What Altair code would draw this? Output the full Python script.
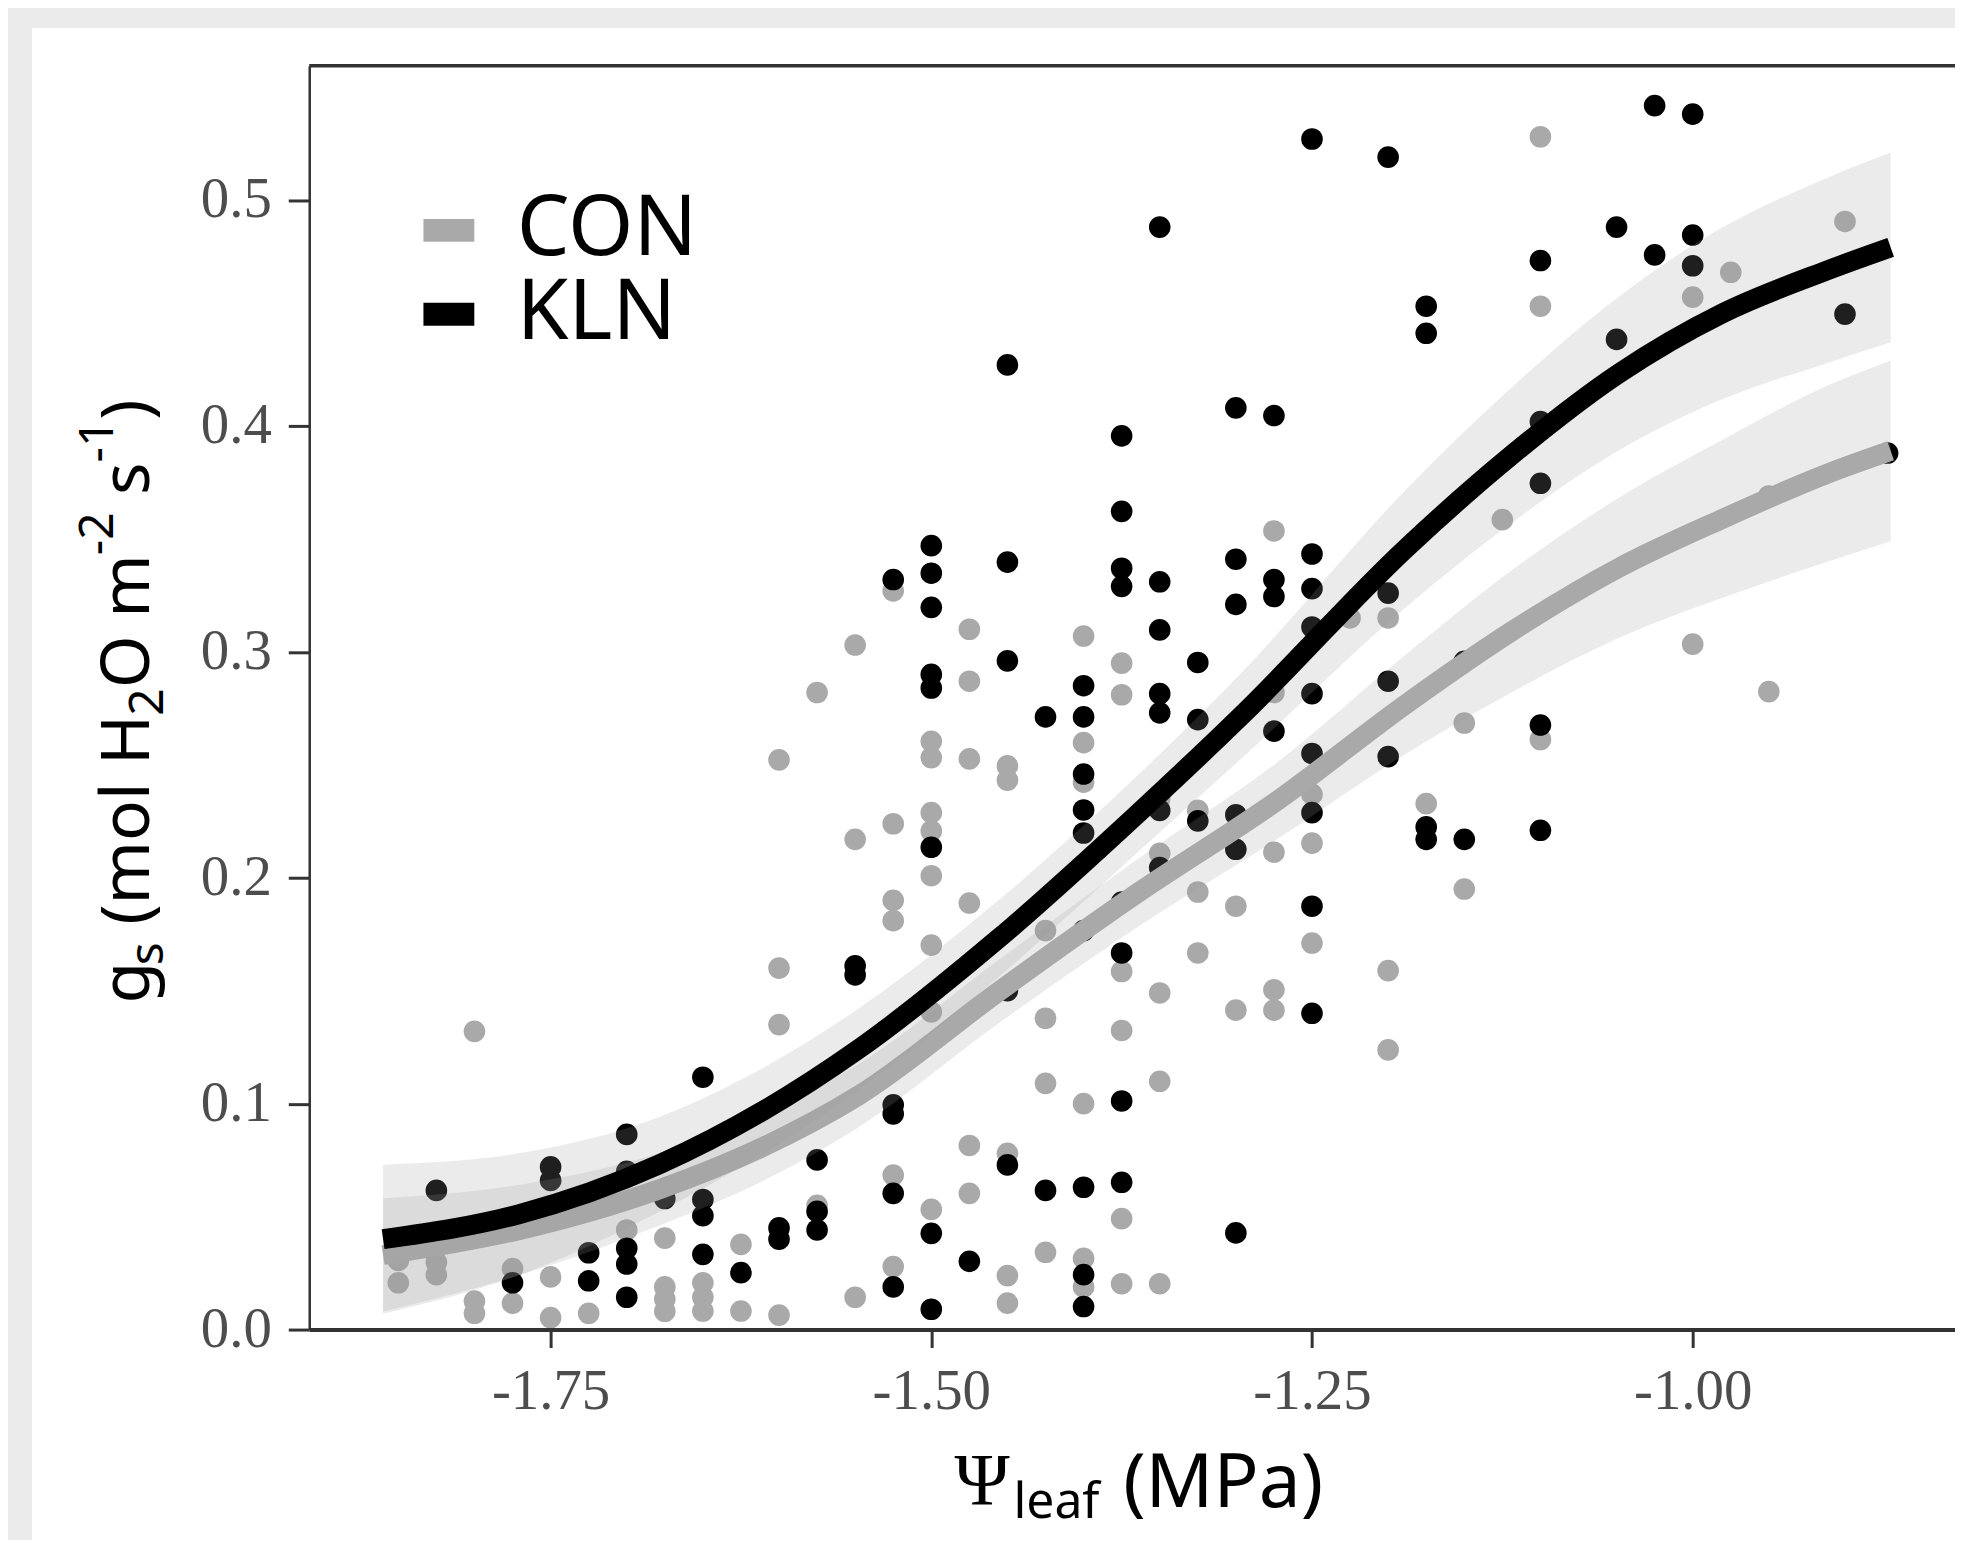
import altair as alt
import pandas as pd

# ---------------- data ----------------
con_x = [-1.550, -1.575, -1.525, -1.275, -1.475, -1.400, -1.375, -1.475, -1.375, -1.225,
         -1.200, -1.275, -1.100, -0.900, -0.975, -1.000, -1.100, -1.125, -0.950, -1.000,
         -0.950, -1.600, -1.550, -1.600, -1.600, -1.800, -1.575, -1.550, -1.850, -1.850,
         -1.825, -1.825, -1.800, -1.800, -1.775, -1.775, -1.750, -1.750, -1.725, -1.700,
         -1.675, -1.675, -1.675, -1.675, -1.650, -1.650, -1.650, -1.625, -1.625, -1.600,
         -1.500, -1.500, -1.475, -1.450, -1.450, -1.400, -1.400, -1.525, -1.500, -1.500,
         -1.500, -1.525, -1.525, -1.475, -1.500, -1.425, -1.375, -1.375, -1.350, -1.350,
         -1.350, -1.325, -1.325, -1.325, -1.300, -1.300, -1.275, -1.275, -1.275, -1.250,
         -1.250, -1.250, -1.200, -1.200, -1.425, -1.400, -1.350, -1.475, -1.450, -1.525,
         -1.475, -1.500, -1.375, -1.525, -1.450, -1.450, -1.425, -1.400, -1.400, -1.375,
         -1.350, -1.500, -1.425, -1.150, -1.100, -1.175, -1.150]
con_y = [0.303, 0.282, 0.327, 0.3535, 0.310, 0.307, 0.295, 0.287, 0.281, 0.315,
         0.315, 0.282, 0.528, 0.4905, 0.468, 0.457, 0.453, 0.3585, 0.369, 0.3034,
         0.2824, 0.2522, 0.217, 0.160, 0.135, 0.132, 0.055, 0.0143, 0.0306, 0.0207,
         0.0298, 0.0243, 0.0126, 0.0072, 0.027, 0.0117, 0.0233, 0.0053, 0.0072, 0.0441,
         0.0405, 0.0189, 0.0135, 0.0081, 0.0207, 0.0143, 0.0082, 0.0377, 0.0082, 0.0064,
         0.2604, 0.2532, 0.2526, 0.2495, 0.2432, 0.2598, 0.2423, 0.2239, 0.2288, 0.2207,
         0.2009, 0.190, 0.181, 0.1888, 0.1702, 0.1766, 0.1585, 0.1324, 0.235, 0.2108,
         0.149, 0.2298, 0.1937, 0.1667, 0.1874, 0.1414, 0.2113, 0.1504, 0.1414, 0.2369,
         0.2153, 0.1711, 0.1589, 0.1238, 0.109, 0.100, 0.1099, 0.0815, 0.078, 0.0684,
         0.0603, 0.0532, 0.0491, 0.0279, 0.0239, 0.0117, 0.0342, 0.0315, 0.0189, 0.0203,
         0.0203, 0.1406, 0.1378, 0.2685, 0.2612, 0.2328, 0.195]

kln_x = [-1.250, -1.200, -1.350, -1.450, -1.300, -1.275, -1.375, -1.375, -1.500, -1.500,
         -1.525, -1.450, -1.500, -1.375, -1.375, -1.350, -1.300, -1.275, -1.275, -1.300,
         -1.250, -1.250, -1.350, -1.450, -1.500, -1.500, -1.325, -1.400, -1.350, -1.200,
         -1.250, -1.250, -1.200,
         -1.025, -1.000, -1.100, -1.050, -1.000, -1.025, -1.000, -1.175, -1.175, -1.050,
         -0.900, -1.100, -1.100, -0.872, -1.150,
         -1.775, -1.725, -1.725, -1.700, -1.700, -1.700, -1.650, -1.650, -1.650, -1.625,
         -1.600, -1.600, -1.575, -1.575, -1.650, -1.700, -1.750, -1.750, -1.825, -1.575,
         -1.675, -1.700, -1.550, -1.550,
         -1.425, -1.400, -1.350, -1.325, -1.275, -1.200, -1.250, -1.400, -1.400, -1.400,
         -1.500, -1.400, -1.375, -1.375, -1.350, -1.350, -1.325, -1.300, -1.300, -1.250,
         -1.250, -1.250, -1.375, -1.525, -1.525, -1.450, -1.525, -1.500, -1.425, -1.400,
         -1.375, -1.300, -1.475, -1.525, -1.500, -1.400, -1.400, -1.450,
         -1.100, -1.175, -1.175, -1.150, -1.100]
kln_y = [0.527, 0.519, 0.488, 0.427, 0.408, 0.4046, 0.3956, 0.3622, 0.347, 0.3348,
         0.332, 0.3397, 0.3197, 0.337, 0.329, 0.331, 0.341, 0.332, 0.3245, 0.321,
         0.3433, 0.328, 0.3097, 0.296, 0.290, 0.284, 0.2953, 0.285, 0.2815, 0.287,
         0.2815, 0.311, 0.326,
         0.5418, 0.538, 0.4732, 0.488, 0.4845, 0.4757, 0.4709, 0.453, 0.441, 0.4383,
         0.4495, 0.4019, 0.3746, 0.388, 0.2958,
         0.0207, 0.034, 0.0216, 0.036, 0.029, 0.0143, 0.0576, 0.0504, 0.0333, 0.0252,
         0.045, 0.040, 0.0523, 0.0441, 0.1117, 0.0864, 0.072, 0.066, 0.0616, 0.0751,
         0.058, 0.070, 0.161, 0.157,
         0.2712, 0.2712, 0.273, 0.270, 0.2649, 0.2536, 0.255, 0.2459, 0.230, 0.2198,
         0.2135, 0.1766, 0.1892, 0.1667, 0.2298, 0.2045, 0.2252, 0.2279, 0.2126, 0.2288,
         0.1874, 0.140, 0.1012, 0.0995, 0.0955, 0.0729, 0.0603, 0.0426, 0.0616, 0.063,
         0.0652, 0.0428, 0.0302, 0.0189, 0.009, 0.0243, 0.0102, 0.150,
         0.2676, 0.2225, 0.217, 0.217, 0.221]

# fitted curves and confidence bands
kln_cx = [-1.860, -1.771, -1.679, -1.610, -1.548, -1.456, -1.365, -1.296, -1.188, -1.119,
          -1.049, -0.980, -0.911, -0.870]
kln_fit = [0.040, 0.051, 0.073, 0.097, 0.124, 0.173, 0.228, 0.272, 0.346, 0.387,
           0.423, 0.450, 0.469, 0.479]
kln_lo = [0.007, 0.024, 0.052, 0.078, 0.106, 0.156, 0.211, 0.253, 0.320, 0.357,
          0.389, 0.412, 0.428, 0.437]
kln_hi = [0.073, 0.078, 0.094, 0.116, 0.142, 0.190, 0.245, 0.291, 0.372, 0.417,
          0.457, 0.488, 0.510, 0.521]

con_cx = [-1.860, -1.771, -1.679, -1.610, -1.548, -1.456, -1.365, -1.273, -1.188, -1.119,
          -1.049, -0.980, -0.911, -0.870]
con_fit = [0.033, 0.044, 0.062, 0.081, 0.1035, 0.1495, 0.193, 0.234, 0.277, 0.309,
           0.337, 0.359, 0.379, 0.389]
con_lo = [0.008, 0.024, 0.046, 0.066, 0.0895, 0.1355, 0.178, 0.217, 0.255, 0.282,
          0.306, 0.324, 0.340, 0.349]
con_hi = [0.058, 0.064, 0.078, 0.096, 0.1175, 0.1635, 0.208, 0.251, 0.299, 0.336,
          0.368, 0.394, 0.418, 0.429]

groups = ["CON", "KLN"]
group_colors = ["#A9A9A9", "#000000"]
x_ticks = [-1.75, -1.50, -1.25, -1.00]
y_ticks = [0.0, 0.1, 0.2, 0.3, 0.4, 0.5]

# ---------------- tables ----------------
pts = pd.DataFrame({
    "x": con_x + kln_x,
    "y": con_y + kln_y,
    "grp": ["CON"] * len(con_x) + ["KLN"] * len(kln_x),
})
kln_curve = pd.DataFrame({"x": kln_cx, "fit": kln_fit, "lo": kln_lo, "hi": kln_hi})
con_curve = pd.DataFrame({"x": con_cx, "fit": con_fit, "lo": con_lo, "hi": con_hi})
one = pd.DataFrame({"a": [0]})

W, H = 1650, 1267
AX = "#333333"

xscale = alt.Scale(domain=[-1.9085, -0.82775], nice=False, zero=False)
yscale = alt.Scale(domain=[0, 0.5594], nice=False, zero=False)

xaxis = alt.Axis(values=x_ticks, title=None, grid=False,
                 labelExpr="replace(format(datum.value, '.2f'), '\u2212', '-')",
                 labelFont="Liberation Serif", labelFontSize=57, labelColor="#4D4D4D",
                 labelPadding=16, tickSize=18, tickWidth=3, tickColor=AX,
                 domainColor=AX, domainWidth=4, zindex=2)
yaxis = alt.Axis(values=y_ticks, title=None, grid=False, format=".1f",
                 labelFont="Liberation Serif", labelFontSize=57, labelColor="#4D4D4D",
                 labelPadding=17, tickSize=21, tickWidth=3, tickColor=AX,
                 domainColor=AX, domainWidth=2.5, zindex=2)


def X(f):
    return alt.X(f, type="quantitative", scale=xscale, axis=xaxis)


def Y(f):
    return alt.Y(f, type="quantitative", scale=yscale, axis=yaxis)


bg = alt.Chart(one).mark_rect(color="white").encode(
    x=alt.value(-278), x2=alt.value(W + 60), y=alt.value(-38), y2=alt.value(H + 400))

points = alt.Chart(pts).mark_circle(size=470, opacity=1, clip=True).encode(
    x=X("x"), y=Y("y"),
    color=alt.Color("grp:N", scale=alt.Scale(domain=groups, range=group_colors),
                    legend=alt.Legend(orient="none", legendX=98, legendY=123, title=None,
                                      symbolType="M-1,-0.45L1,-0.45L1,0.45L-1,0.45Z",
                                      symbolSize=2601, symbolStrokeWidth=0, symbolOpacity=1,
                                      labelFont="Noto Sans", labelFontSize=84,
                                      labelColor="black", labelOffset=26, rowPadding=0,
                                      padding=0, labelLimit=500)),
)


def band(df):
    return alt.Chart(df).mark_area(color="#999999", opacity=0.2, interpolate="monotone").encode(
        x=X("x"), y=Y("lo"), y2="hi")


def line(df, col):
    return alt.Chart(df).mark_line(color=col, strokeWidth=20, interpolate="monotone",
                                   strokeCap="butt").encode(x=X("x"), y=Y("fit"))


top_rule = alt.Chart(one).mark_rule(color=AX, strokeWidth=3.5).encode(
    x=alt.value(0), x2=alt.value(W), y=alt.value(0))

# ---------------- axis titles built from pieces ----------------
EM = {' ': 0.26, '(': 0.30, ')': 0.30, '-': 0.32, '1': 0.572, '2': 0.572, 'H': 0.738,
      'O': 0.779, 'M': 0.907, 'P': 0.602, 'a': 0.561, 'e': 0.561, 'f': 0.344, 'g': 0.561,
      'l': 0.258, 'm': 0.924, 'o': 0.602, 's': 0.479}


def tw(s, size):
    return sum(EM[c] for c in s) * size


def text_layer(t, font, size, x, y, angle=0):
    return alt.Chart(one).mark_text(text=t, font=font, fontSize=size, angle=angle,
                                    align="left", baseline="alphabetic", color="black").encode(
        x=alt.value(x), y=alt.value(y))


S, s = 68, 48
ytitle_parts = [  # text, size, baseline shift, gap before (em of main)
    ("g", S, 0, 0), ("s", s, 14, 0), ("(mol H", S, 0, 0.26), ("2", s, 14, 0),
    ("O m", S, 0, 0), ("-2", s, -36, 0), ("s", S, 0, 0.26), ("-1", s, -36, 0), (")", S, 0, 0),
]
title_layers = []
cur = 940
for t, sz, sh, gap in ytitle_parts:
    cur -= gap * S
    title_layers.append(text_layer(t, "Noto Sans", sz, -161 + sh, cur, angle=270))
    cur -= tw(t, sz)

title_layers.append(text_layer("\u03a8", "Liberation Serif", 75, 647, 1443))
title_layers.append(text_layer("leaf", "Noto Sans", 50, 706, 1456))
title_layers.append(text_layer("(MPa)", "Noto Sans", 75, 816, 1445))

chart = alt.layer(
    bg, points,
    band(con_curve), line(con_curve, group_colors[0]),
    band(kln_curve), line(kln_curve, group_colors[1]),
    top_rule, *title_layers,
).properties(
    width=W, height=H,
    padding={"left": 302, "top": 56, "right": 0, "bottom": 209},
    autosize=alt.AutoSizeParams(type="none"),
    background="#EBEBEB",
).configure_view(stroke=None)

chart.save("out.html", embed_options={"renderer": "svg", "actions": False})
